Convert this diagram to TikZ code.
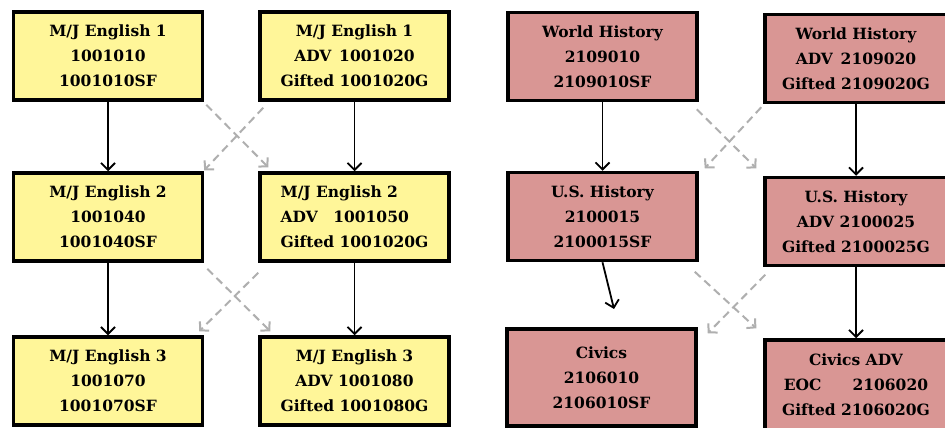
\documentclass[tikz,border=0pt]{standalone}
\usepackage{fontspec}
\setmainfont{DejaVu Serif}
\usetikzlibrary{arrows.meta}
\definecolor{engfill}{RGB}{255,246,153}
\definecolor{histfill}{RGB}{217,150,148}
\definecolor{dashgray}{RGB}{175,175,175}

\begin{document}
\begin{tikzpicture}[x=1pt, y=1pt,
    course/.style={rectangle, draw, line width=3.5pt, minimum width=189pt, minimum height=88pt, inner sep=2pt, align=center, font=\fontsize{15.5}{25}\selectfont\bfseries},
    eng/.style={course, fill=engfill},
    hist/.style={course, fill=histfill},
    next/.style={-{Straight Barb[length=7pt, width=14pt]}, line width=1.8pt},
    alt/.style={-{Straight Barb[length=6pt, width=13pt]}, line width=2pt, dashgray, dash pattern=on 8pt off 5pt}]

    % Page
    \useasboundingbox (0,0) rectangle (945,-428);
    \fill[white] (0,0) rectangle (945,-428);

    % English courses
    \node[eng] (eng1) at (108,-56) {M/J English 1\\1001010\\1001010SF};
    \node[eng] (eng1adv) at (354.5,-56) {M/J English 1\\ADV\enspace 1001020\\Gifted 1001020G};
    \node[eng] (eng2) at (108,-217) {M/J English 2\\1001040\\1001040SF};
    \node[eng, align=left] (eng2adv) at (354.5,-217) {M/J English 2\\ADV\quad 1001050\\Gifted 1001020G};
    \node[eng] (eng3) at (108,-381) {M/J English 3\\1001070\\1001070SF};
    \node[eng] (eng3adv) at (354.5,-381) {M/J English 3\\ADV 1001080\\Gifted 1001080G};

    % History courses
    \node[hist] (wh) at (602.5,-56.5) {World History\\2109010\\2109010SF};
    \node[hist, minimum width=182pt] (whadv) at (856,-58.5) {World History\\ADV\enspace 2109020\\Gifted 2109020G};
    \node[hist] (ush) at (602.5,-216.5) {U.S. History\\2100015\\2100015SF};
    \node[hist, minimum width=182pt] (ushadv) at (856,-221.5) {U.S. History\\ADV 2100025\\Gifted 2100025G};
    \node[hist, minimum height=97pt] (civ) at (601.5,-377.5) {Civics\\2106010\\2106010SF};
    \node[hist, minimum width=182pt, minimum height=90pt] (civadv) at (856,-385) {Civics ADV\\EOC\qquad 2106020\\Gifted 2106020G};

    % Straight sequence
    \draw[next] (eng1) -- (eng2);
    \draw[next] (eng2) -- (eng3);
    \draw[next] (eng1adv) -- (eng2adv);
    \draw[next] (eng2adv) -- (eng3adv);
    \draw[next] (wh) -- (ush);
    \draw[next] (whadv) -- (ushadv);
    \draw[next] (ushadv) -- (civadv);
    \coordinate (civtip) at (614,-309);
    \draw[next] (ush.south) -- (civtip);

    % Switching between levels
    \draw[alt] ([shift={(2,-3)}]eng1.south east) -- ([shift={(10,4)}]eng2adv.north west);
    \draw[alt] ([shift={(5,-6)}]eng1adv.south west) -- ([shift={(0,1)}]eng2.north east);
    \draw[alt] ([shift={(3,-6)}]eng2.south east) -- ([shift={(12,4)}]eng3adv.north west);
    \draw[alt] ([shift={(0,-10)}]eng2adv.south west) -- ([shift={(-5,4)}]eng3.north east);
    \draw[alt] ([shift={(-2,-7)}]wh.south east) -- ([shift={(-7,7.5)}]ushadv.north west);
    \draw[alt] ([shift={(-2,-3)}]whadv.south west) -- ([shift={(6,2.5)}]ush.north east);
    \draw[alt] ([shift={(-4,-9.5)}]ush.south east) -- ([shift={(-7,10)}]civadv.north west);
    \draw[alt] ([shift={(2,-7.5)}]ushadv.south west) -- ([shift={(10,-6)}]civ.north east);
\end{tikzpicture}
\end{document}
